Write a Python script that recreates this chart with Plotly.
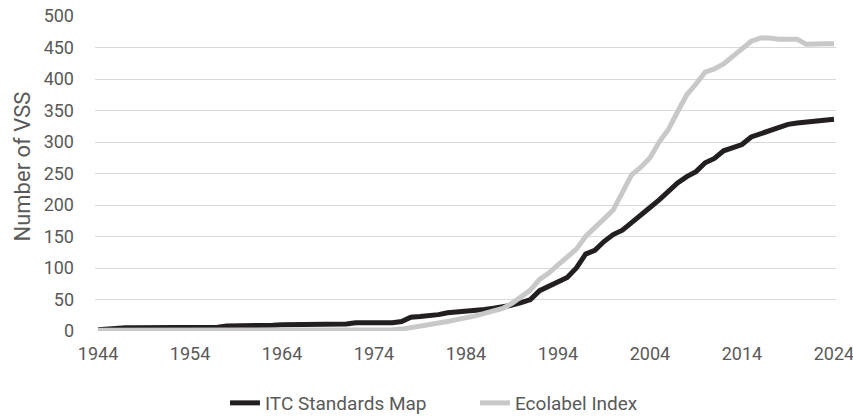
import plotly.graph_objects as go

years = list(range(1944, 2025))

itc = [2, 3, 5, 5, 5, 5, 5, 5, 5, 5,        # 1944-1953
       5, 6, 6, 6, 8, 8, 8, 8, 8, 9,        # 1954-1963
       10, 10, 10, 10, 10, 10, 10, 11, 13, 13,  # 1964-1973
       13, 13, 13, 15, 22, 23, 24, 26, 29, 30,  # 1974-1983
       32, 33, 34, 36, 38, 41, 45, 50, 64, 71,  # 1984-1993
       79, 85, 100, 122, 128, 142, 153, 160, 172, 183,  # 1994-2003
       196, 208, 222, 235, 245, 253, 267, 274, 286, 292,  # 2004-2013
       296, 308, 313, 320, 323, 328, 330, 332, 333, 336,  # 2014-2023
       336]                                     # 2024

eco = [1, 1, 1, 1, 1, 1, 1, 1, 1, 1,        # 1944-1953
       1, 1, 1, 1, 1, 1, 1, 1, 1, 1,        # 1954-1963
       1, 1, 1, 1, 1, 1, 1, 1, 2, 2,        # 1964-1973
       2, 2, 2, 3, 5, 8, 9, 11, 15, 18,     # 1974-1983
       20, 24, 28, 32, 36, 44, 55, 65, 82, 92,  # 1984-1993
       105, 118, 130, 150, 163, 178, 192, 222, 248, 260,  # 1994-2003
       275, 300, 320, 348, 375, 392, 411, 416, 424, 436,  # 2004-2013
       448, 460, 465, 465, 463, 463, 463, 455, 456, 456,  # 2014-2023
       456]                                     # 2024

tick_years = list(range(1944, 2025, 10))
y_ticks = list(range(0, 501, 50))

FONT = "Roboto"
TXT = "#595959"

fig = go.Figure()
fig.add_trace(go.Scatter(x=years, y=itc, mode="lines", name="ITC Standards Map",
                         line=dict(color="#231f20", width=5)))
fig.add_trace(go.Scatter(x=years, y=eco, mode="lines", name="Ecolabel Index",
                         line=dict(color="#c8c8c8", width=5)))

fig.update_layout(
    width=853, height=416,
    margin=dict(l=95, r=17, t=16, b=85, autoexpand=False),
    paper_bgcolor="white", plot_bgcolor="white",
    font=dict(family=FONT, size=18, color=TXT),
    showlegend=True,
    legend=dict(orientation="h", x=0.1754, xanchor="left",
                y=-0.2286, yanchor="middle",
                font=dict(family=FONT, size=19, color=TXT), traceorder="normal",
                entrywidth=205, entrywidthmode="pixels", tracegroupgap=0),
    xaxis=dict(range=[1943.67, 2024.22], tickmode="array", tickvals=tick_years,
               ticktext=[str(t) for t in tick_years], showgrid=False, zeroline=False,
               showline=False, ticks="", ticklabelstandoff=10, automargin=False,
               ticklabeloverflow="allow",
               tickfont=dict(family=FONT, size=18, color=TXT)),
    yaxis=dict(range=[0, 500], tickmode="array", tickvals=y_ticks,
               showgrid=True, gridcolor="#d9d9d9", gridwidth=1, zeroline=False,
               showline=False, ticks="", ticklabelstandoff=20, automargin=False,
               tickfont=dict(family=FONT, size=18, color=TXT)),
    annotations=[dict(text="Number of VSS", textangle=-90, xref="paper", yref="paper",
                      x=0, y=0.5, xanchor="center", yanchor="middle", xshift=-73, yshift=7,
                      showarrow=False, font=dict(family=FONT, size=22, color=TXT))],
)

fig.write_html("out.html", config={"displayModeBar": False},
               post_script="document.body.style.margin='0';")
